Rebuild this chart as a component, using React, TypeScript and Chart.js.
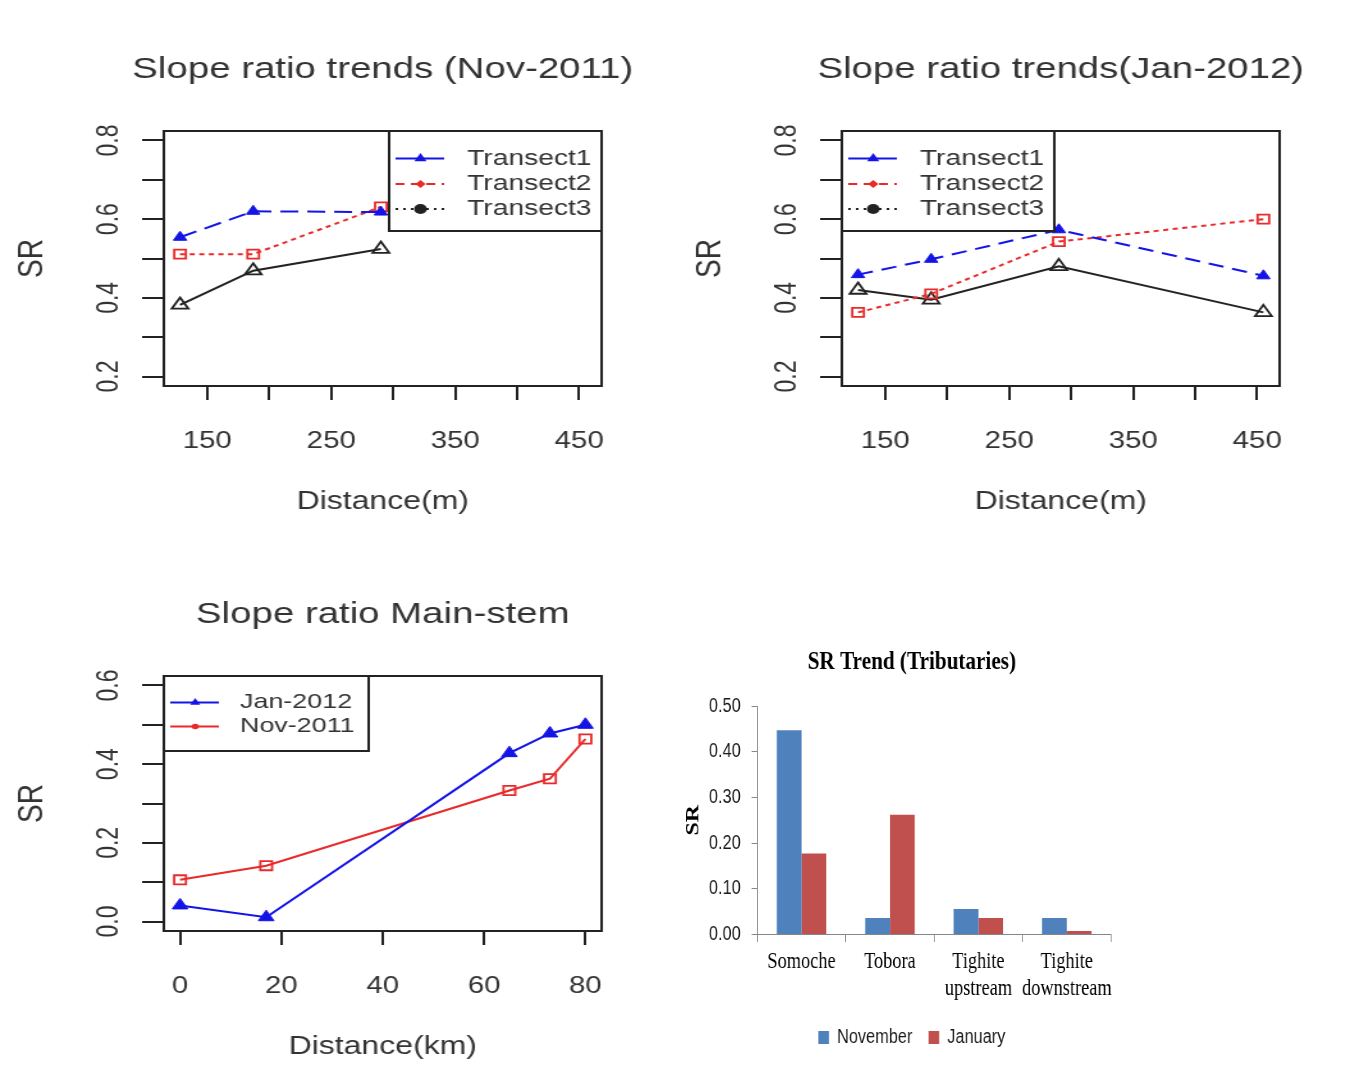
import React, { useEffect, useRef } from 'react';
import { Chart, registerables } from 'chart.js';

Chart.register(...registerables);

// ---------------- data ----------------
const DIST_M = [128, 187, 290, 455];
const NOV_T1 = [0.554, 0.62, 0.618];
const NOV_T2 = [0.511, 0.511, 0.631];
const NOV_T3 = [0.382, 0.469, 0.524];
const JAN_T1 = [0.459, 0.498, 0.573, 0.456];
const JAN_T2 = [0.363, 0.41, 0.543, 0.6];
const JAN_T3 = [0.42, 0.395, 0.48, 0.363];

const DIST_KM = [0, 17, 65, 73, 80];
const MAIN_JAN = [0.041, 0.011, 0.428, 0.478, 0.5];
const MAIN_NOV = [0.106, 0.142, 0.333, 0.363, 0.464];

const TRIB_CATS = ['Somoche', 'Tobora', ['Tighite', 'upstream'], ['Tighite', 'downstream']];
const TRIB_NOV = [0.447, 0.036, 0.056, 0.036];
const TRIB_JAN = [0.177, 0.262, 0.036, 0.0075];

const X_TICKS_M = [150, 200, 250, 300, 350, 400, 450];
const X_LABELS_M = [150, 250, 350, 450];
const Y_TICKS_TOP = [0.2, 0.3, 0.4, 0.5, 0.6, 0.7, 0.8];
const Y_LABELS_TOP = [0.2, 0.4, 0.6, 0.8];
const X_TICKS_KM = [0, 20, 40, 60, 80];
const Y_TICKS_MAIN = [0, 0.1, 0.2, 0.3, 0.4, 0.5, 0.6];
const Y_LABELS_MAIN = [0, 0.2, 0.4, 0.6];
const TRIB_Y_TICKS = [0, 0.1, 0.2, 0.3, 0.4, 0.5];

// ---------------- styling ----------------
const SANS = "'Liberation Sans', Arial, sans-serif";
const SERIF = "'Liberation Serif', 'Times New Roman', serif";
const SX_R = 1.28;
const SX_BAR = 0.815;
const BLUE = '#1414e6';
const RED = '#e82a2a';
const BLACK = '#222222';
const TXT = '#333333';

function rRange(lo: number, hi: number): [number, number] {
  const d = (hi - lo) * 0.04;
  return [lo - d, hi + d];
}

function pts(xs: number[], ys: number[]) {
  return ys.map((y, i) => ({ x: xs[i], y }));
}

function drawMarker(ctx: CanvasRenderingContext2D, kind: string, x: number, y: number, r: number, color: string) {
  ctx.save();
  ctx.fillStyle = color;
  ctx.beginPath();
  if (kind === 'triangle') {
    ctx.moveTo(x, y - r);
    ctx.lineTo(x + r * 0.866, y + r / 2);
    ctx.lineTo(x - r * 0.866, y + r / 2);
    ctx.closePath();
  } else if (kind === 'diamond') {
    ctx.moveTo(x, y - r);
    ctx.lineTo(x + r, y);
    ctx.lineTo(x, y + r);
    ctx.lineTo(x - r, y);
    ctx.closePath();
  } else {
    ctx.arc(x, y, r, 0, Math.PI * 2);
  }
  ctx.fill();
  ctx.restore();
}

const rBoxPlugin = {
  id: 'rBox',
  afterDraw(chart: any) {
    const { ctx, chartArea: a } = chart;
    ctx.save();
    ctx.strokeStyle = BLACK;
    ctx.lineWidth = 2;
    ctx.strokeRect(a.left, a.top, a.right - a.left, a.bottom - a.top);
    ctx.restore();
  },
};

const rLegendPlugin = {
  id: 'rLegend',
  afterDraw(chart: any, _args: any, opts: any) {
    if (!opts || !opts.items) return;
    const { ctx, chartArea } = chart;
    const w = opts.width;
    const h = opts.height;
    const x0 = opts.anchor === 'right' ? chartArea.right - w : chartArea.left;
    const y0 = chartArea.top;
    ctx.save();
    ctx.strokeStyle = BLACK;
    ctx.lineWidth = 2;
    ctx.strokeRect(x0, y0, w, h);
    opts.items.forEach((it: any, i: number) => {
      const y = y0 + opts.rowY[i];
      ctx.save();
      ctx.setLineDash(it.dash || []);
      ctx.strokeStyle = it.color;
      ctx.lineWidth = 2;
      ctx.beginPath();
      ctx.moveTo(x0 + opts.lineX0, y);
      ctx.lineTo(x0 + opts.lineX1, y);
      ctx.stroke();
      ctx.restore();
      drawMarker(ctx, it.marker, x0 + opts.markX, y, it.size, it.color);
      ctx.fillStyle = TXT;
      ctx.font = `${opts.fontSize}px ${SANS}`;
      ctx.textBaseline = 'middle';
      ctx.textAlign = 'left';
      ctx.fillText(it.label, x0 + opts.textX, y);
    });
    ctx.restore();
  },
};

const near = (list: number[], v: number) => list.some((l) => Math.abs(l - v) < 1e-9);

// R panels: canvas is 598 wide; y-axis box 128 wide on the left and an
// equal empty spacer on the right so that the full-width title centres over the plot box.
const R_W = 598;
const R_H = 540;

function rConfig(o: any) {
  const [xmin, xmax] = o.xRange;
  const [ymin, ymax] = o.yRange;
  const tfs = o.titleSize;
  const tlh = tfs * 1.2;
  const tTop = 70 - tlh / 2;
  return {
    type: 'line',
    data: { datasets: o.datasets },
    plugins: [rBoxPlugin, rLegendPlugin],
    options: {
      responsive: false,
      animation: false,
      events: [],
      layout: { padding: { left: 0, right: 0, top: 0, bottom: 20 } },
      plugins: {
        legend: { display: false },
        tooltip: { enabled: false },
        title: {
          display: true,
          text: o.title,
          color: TXT,
          font: { family: SANS, size: tfs, weight: 'normal' },
          padding: { top: tTop, bottom: 131 - tTop - tlh },
        },
        rLegend: o.legend,
      },
      scales: {
        x: {
          type: 'linear',
          bounds: 'data',
          min: xmin,
          max: xmax,
          afterBuildTicks: (s: any) => {
            s.ticks = o.xTicks.map((v: number) => ({ value: v }));
          },
          afterFit: (s: any) => {
            s.height = 134;
          },
          border: { display: false },
          grid: { drawOnChartArea: false, drawTicks: true, tickLength: 14, color: BLACK, lineWidth: 2 },
          ticks: {
            autoSkip: false,
            maxRotation: 0,
            minRotation: 0,
            padding: 28,
            color: TXT,
            font: { family: SANS, size: 23 },
            callback: (v: any) => (near(o.xLabels, Number(v)) ? String(v) : ''),
          },
          title: { display: true, text: o.xTitle, color: TXT, font: { family: SANS, size: 25 }, padding: { top: 0, bottom: 3 } },
        },
        y: {
          type: 'linear',
          bounds: 'data',
          min: ymin,
          max: ymax,
          afterBuildTicks: (s: any) => {
            s.ticks = o.yTicks.map((v: number) => ({ value: v }));
          },
          afterFit: (s: any) => {
            s.width = 128;
          },
          border: { display: false },
          grid: { drawOnChartArea: false, drawTicks: true, tickLength: 17, color: BLACK, lineWidth: 2 },
          ticks: {
            autoSkip: false,
            minRotation: 90,
            maxRotation: 90,
            crossAlign: 'center',
            padding: 9.5,
            color: TXT,
            font: { family: SANS, size: 23 },
            callback: (v: any) => (near(o.yLabels, Number(v)) ? Number(v).toFixed(1) : ''),
          },
          title: { display: true, text: 'SR', color: TXT, font: { family: SANS, size: 28 }, padding: { top: 8, bottom: 0 } },
        },
        spacer: {
          type: 'linear',
          position: 'right',
          display: true,
          min: ymin,
          max: ymax,
          afterFit: (s: any) => {
            s.width = 128;
          },
          border: { display: false },
          grid: { display: false },
          ticks: { display: false },
        },
      },
    },
  };
}

function lineDs(label: string, data: any[], color: string, dash: number[], style: string, r: number, filled: boolean) {
  return {
    label,
    data,
    borderColor: color,
    borderWidth: 2,
    borderDash: dash,
    tension: 0,
    fill: false,
    pointStyle: style,
    pointRadius: r,
    pointHoverRadius: r,
    pointBorderWidth: filled ? 1 : 1.8,
    pointBorderColor: color,
    pointBackgroundColor: filled ? color : 'rgba(0,0,0,0)',
  };
}

const TRANSECT_LEGEND_ITEMS = [
  { label: 'Transect1', color: BLUE, dash: [], marker: 'triangle', size: 5.5 },
  { label: 'Transect2', color: RED, dash: [7, 5], marker: 'diamond', size: 4 },
  { label: 'Transect3', color: BLACK, dash: [2, 4], marker: 'circle', size: 5 },
];

function transectLegend(anchor: string) {
  return {
    anchor,
    width: 166,
    height: 100,
    rowY: [27.5, 53, 78],
    lineX0: 5,
    lineX1: 43,
    markX: 24.5,
    textX: 61,
    fontSize: 22,
    items: TRANSECT_LEGEND_ITEMS,
  };
}

const novConfig = () =>
  rConfig({
    title: 'Slope ratio trends (Nov-2011)',
    titleSize: 30,
    xTitle: 'Distance(m)',
    xRange: rRange(Math.min(...DIST_M), Math.max(...DIST_M)),
    yRange: rRange(0.2, 0.8),
    xTicks: X_TICKS_M,
    xLabels: X_LABELS_M,
    yTicks: Y_TICKS_TOP,
    yLabels: Y_LABELS_TOP,
    legend: transectLegend('right'),
    datasets: [
      lineDs('Transect1', pts(DIST_M, NOV_T1), BLUE, [14, 7], 'triangle', 6, true),
      lineDs('Transect2', pts(DIST_M, NOV_T2), RED, [4, 3.5], 'rect', 6.4, false),
      lineDs('Transect3', pts(DIST_M, NOV_T3), BLACK, [], 'triangle', 7.5, false),
    ],
  });

const janConfig = () =>
  rConfig({
    title: 'Slope ratio trends(Jan-2012)',
    titleSize: 30,
    xTitle: 'Distance(m)',
    xRange: rRange(Math.min(...DIST_M), Math.max(...DIST_M)),
    yRange: rRange(0.2, 0.8),
    xTicks: X_TICKS_M,
    xLabels: X_LABELS_M,
    yTicks: Y_TICKS_TOP,
    yLabels: Y_LABELS_TOP,
    legend: transectLegend('left'),
    datasets: [
      lineDs('Transect1', pts(DIST_M, JAN_T1), BLUE, [12, 7], 'triangle', 6, true),
      lineDs('Transect2', pts(DIST_M, JAN_T2), RED, [4, 3.5], 'rect', 6.4, false),
      lineDs('Transect3', pts(DIST_M, JAN_T3), BLACK, [], 'triangle', 7.5, false),
    ],
  });

const mainConfig = () =>
  rConfig({
    title: 'Slope ratio Main-stem',
    titleSize: 30,
    xTitle: 'Distance(km)',
    xRange: rRange(0, 80),
    yRange: rRange(0, 0.6),
    xTicks: X_TICKS_KM,
    xLabels: X_TICKS_KM,
    yTicks: Y_TICKS_MAIN,
    yLabels: Y_LABELS_MAIN,
    legend: {
      anchor: 'left',
      width: 160,
      height: 75,
      rowY: [26.5, 50.5],
      lineX0: 5,
      lineX1: 43,
      markX: 24.5,
      textX: 59.5,
      fontSize: 21,
      items: [
        { label: 'Jan-2012', color: BLUE, dash: [], marker: 'triangle', size: 4.5 },
        { label: 'Nov-2011', color: RED, dash: [], marker: 'circle', size: 2.8 },
      ],
    },
    datasets: [
      lineDs('Jan-2012', pts(DIST_KM, MAIN_JAN), BLUE, [], 'triangle', 7, true),
      lineDs('Nov-2011', pts(DIST_KM, MAIN_NOV), RED, [], 'rect', 6.5, false),
    ],
  });

const barConfig = () => ({
  type: 'bar',
  data: {
    labels: TRIB_CATS,
    datasets: [
      { label: 'November', data: TRIB_NOV, backgroundColor: '#4F81BD', borderWidth: 0 },
      { label: 'January', data: TRIB_JAN, backgroundColor: '#C0504D', borderWidth: 0 },
    ],
  },
  options: {
    responsive: false,
    animation: false,
    events: [],
    layout: { padding: { left: 0, right: 0, top: 0, bottom: 28.6 } },
    datasets: { bar: { barPercentage: 1, categoryPercentage: 0.56 } },
    plugins: {
      tooltip: { enabled: false },
      title: {
        display: true,
        text: 'SR Trend (Tributaries)',
        color: '#000',
        font: { family: SERIF, size: 26, weight: 'bold' },
        padding: { top: 26.3, bottom: 28.5 },
      },
      legend: {
        position: 'bottom',
        labels: { boxWidth: 13, boxHeight: 13, padding: 20, color: '#1a1a1a', font: { family: SANS, size: 20 } },
      },
    },
    scales: {
      x: {
        afterFit: (s: any) => {
          s.height = 72.9;
        },
        border: { color: '#868686', width: 1 },
        grid: { drawOnChartArea: false, tickLength: 7.5, color: '#868686', offset: true },
        ticks: {
          autoSkip: false,
          maxRotation: 0,
          minRotation: 0,
          padding: 6.6,
          color: '#000',
          font: { family: SERIF, size: 22.5 },
        },
      },
      y: {
        min: 0,
        max: 0.5,
        afterBuildTicks: (s: any) => {
          s.ticks = TRIB_Y_TICKS.map((v) => ({ value: v }));
        },
        afterFit: (s: any) => {
          s.width = 119.4;
        },
        border: { color: '#868686', width: 1 },
        grid: { drawOnChartArea: false, tickLength: 6.9, color: '#868686' },
        ticks: {
          padding: 13.5,
          color: '#1a1a1a',
          font: { family: SANS, size: 20 },
          callback: (v: any) => Number(v).toFixed(2),
        },
        title: {
          display: true,
          text: 'SR',
          color: '#000',
          font: { family: SERIF, size: 24, weight: 'bold' },
          padding: { top: 26, bottom: 0 },
        },
      },
      // empty spacer on the right so the title and legend centre on the whole canvas
      ySpacer: {
        type: 'linear',
        position: 'right',
        display: true,
        min: 0,
        max: 0.5,
        afterFit: (s: any) => {
          s.width = 64.6;
        },
        border: { display: false },
        grid: { display: false },
        ticks: { display: false },
      },
    },
  },
});

function Panel(props: { left: number; top: number; width: number; height: number; sx: number; make: () => any }) {
  const ref = useRef<HTMLCanvasElement | null>(null);
  useEffect(() => {
    const chart = new Chart(ref.current as HTMLCanvasElement, props.make());
    return () => chart.destroy();
  }, []);
  return (
    <canvas
      ref={ref}
      width={props.width}
      height={props.height}
      style={{
        position: 'absolute',
        left: props.left,
        top: props.top,
        width: props.width,
        height: props.height,
        transform: `scaleX(${props.sx})`,
        transformOrigin: '0 0',
      }}
    />
  );
}

export default function App() {
  return (
    <div style={{ position: 'fixed', left: 0, top: 0, width: 1367, height: 1086, background: '#fff', overflow: 'hidden' }}>
      <Panel left={0} top={0} width={R_W} height={R_H} sx={SX_R} make={novConfig} />
      <Panel left={678} top={0} width={R_W} height={R_H} sx={SX_R} make={janConfig} />
      <Panel left={0} top={545} width={R_W} height={R_H} sx={SX_R} make={mainConfig} />
      <Panel left={660} top={620} width={618} height={466} sx={SX_BAR} make={barConfig} />
    </div>
  );
}
